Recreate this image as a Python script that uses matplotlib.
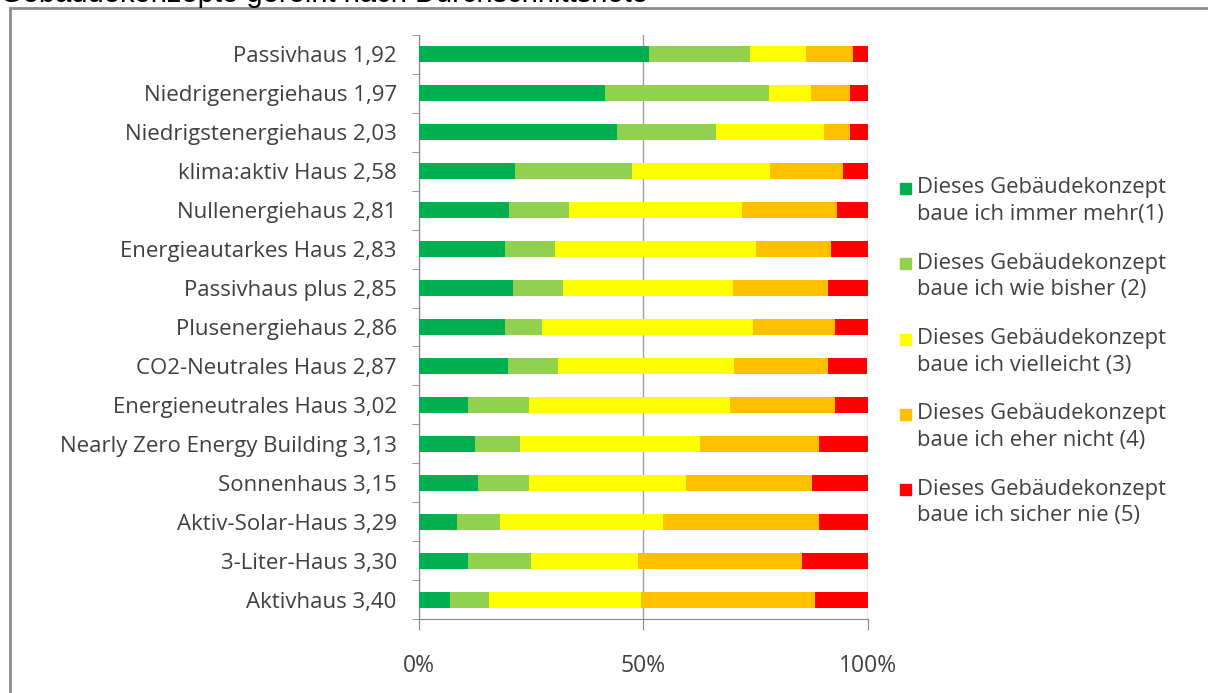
import matplotlib.pyplot as plt
from matplotlib.patches import Rectangle
import numpy as np

plt.rcParams['font.family'] = ['Open Sans', 'DejaVu Sans']

categories = [
    "Passivhaus 1,92", "Niedrigenergiehaus 1,97", "Niedrigstenergiehaus 2,03",
    "klima:aktiv Haus 2,58", "Nullenergiehaus 2,81", "Energieautarkes Haus 2,83",
    "Passivhaus plus 2,85", "Plusenergiehaus 2,86", "CO2-Neutrales Haus 2,87",
    "Energieneutrales Haus 3,02", "Nearly Zero Energy Building 3,13",
    "Sonnenhaus 3,15", "Aktiv-Solar-Haus 3,29", "3-Liter-Haus 3,30", "Aktivhaus 3,40",
]

immer_mehr = [51.2, 41.4, 44.1, 21.5, 20.1, 19.2, 20.9, 19.1, 19.8, 10.9, 12.4, 13.1, 8.5, 10.9, 6.9]
wie_bisher = [22.7, 36.7, 22.2, 25.9, 13.3, 11.2, 11.3, 8.3, 11.3, 13.7, 10.1, 11.5, 9.5, 14.1, 8.6]
vielleicht = [12.4, 9.2, 24.0, 30.8, 38.6, 44.8, 37.7, 47.1, 39.2, 44.7, 40.2, 35.0, 36.4, 23.9, 34.1]
eher_nicht = [10.4, 8.9, 5.8, 16.3, 21.3, 16.7, 21.4, 18.3, 21.0, 23.5, 26.5, 28.0, 34.8, 36.5, 38.7]
sicher_nie = [3.3, 3.8, 3.9, 5.5, 6.7, 8.1, 8.7, 7.2, 8.7, 7.2, 10.8, 12.4, 10.8, 14.6, 11.7]

series_labels = [
    "Dieses Gebäudekonzept\nbaue ich immer mehr(1)",
    "Dieses Gebäudekonzept\nbaue ich wie bisher (2)",
    "Dieses Gebäudekonzept\nbaue ich vielleicht (3)",
    "Dieses Gebäudekonzept\nbaue ich eher nicht (4)",
    "Dieses Gebäudekonzept\nbaue ich sicher nie (5)",
]
colors = ["#00B050", "#92D050", "#FFFF00", "#FFC000", "#FF0000"]

title = "Gebäudekonzepte gereiht nach Durchschnittsnote"

fig = plt.figure(figsize=(12.08, 6.93), dpi=100)
ax = fig.add_axes([419 / 1208, 1 - 619 / 693, 448.5 / 1208, 584 / 693])

data = np.array([immer_mehr, wie_bisher, vielleicht, eher_nicht, sicher_nie])
data = data / data.sum(axis=0) * 100
y = np.arange(len(categories))
left = np.zeros(len(categories))
for vals, col in zip(data, colors):
    ax.barh(y, vals, left=left, height=0.41, color=col, zorder=3)
    left += vals

ax.set_ylim(len(categories) - 0.5, -0.5)
ax.set_xlim(0, 100)
ax.set_yticks(y)
ax.set_yticklabels(categories, fontsize=16, color="#404040")
ax.set_yticks(np.arange(-0.5, len(categories), 1), minor=True)
ax.tick_params(axis="y", which="major", length=0, pad=16)
ax.tick_params(axis="y", which="minor", length=5, color="#868686", direction="out")
ax.set_xticks([0, 50, 100])
ax.set_xticklabels(["0%", "50%", "100%"], fontsize=16.5, color="#404040")
ax.tick_params(axis="x", length=8, color="#868686", pad=17)
ax.grid(axis="x", color="#A0A0A0", linewidth=1, zorder=0)

for s in ["top", "right"]:
    ax.spines[s].set_visible(False)
for s in ["left", "bottom"]:
    ax.spines[s].set_color("#868686")

# manual legend, marker next to first line of each entry
for i, (lab, col) in enumerate(zip(series_labels, colors)):
    ty = 1 - (188.5 + i * 75.3) / 693
    fig.patches.append(Rectangle((899.5 / 1208, ty - 5.5 / 693), 11 / 1208, 11 / 693,
                                 transform=fig.transFigure, color=col))
    fig.text(917 / 1208, ty + 11 / 693, lab, fontsize=15.8, color="#404040",
             va="top", ha="left", linespacing=1.34)

# outer frame of the chart area
fig.patches.append(Rectangle((10 / 1208, -0.1), 1.2, 1.1 - 8 / 693, transform=fig.transFigure,
                             fill=False, edgecolor="#8C8C8C", linewidth=2))
fig.text(0.0, 1 - 1.5 / 693, title, fontsize=21, color="black", va="baseline", ha="left",
         family=["Liberation Sans", "DejaVu Sans"])

fig.savefig("out.png", dpi=100)
